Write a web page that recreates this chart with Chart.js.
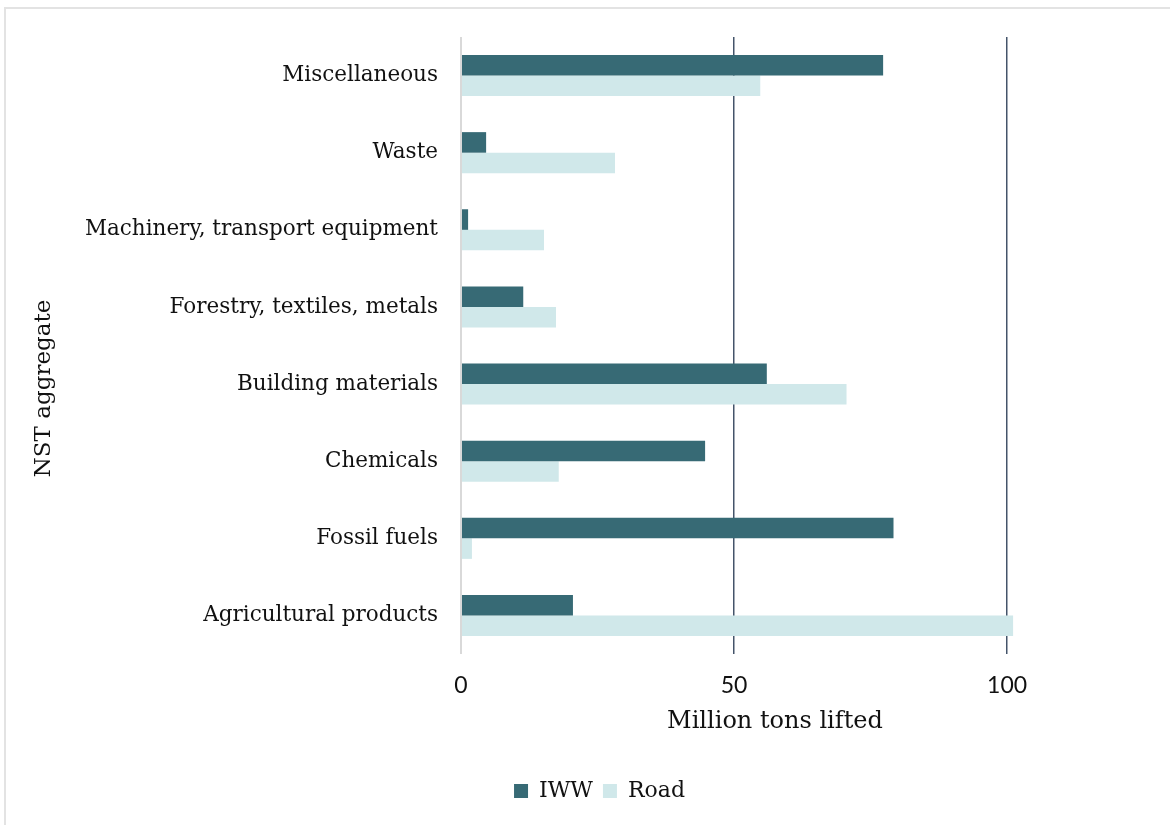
<!DOCTYPE html>
<html>
<head>
<meta charset="utf-8">
<script src="https://cdn.jsdelivr.net/npm/chart.js@4/dist/chart.umd.min.js"></script>
<style>
    html, body { margin: 0; padding: 0; background: #fff; }
    #wrap { position: relative; width: 1170px; height: 825px; }
    #frame { position: absolute; left: 4px; top: 7px; width: 1180px; height: 840px; border: 2px solid #e3e3e3; pointer-events: none; }
</style>
</head>
<body>
<div id="wrap">
    <canvas id="nstChart" width="1170" height="825"></canvas>
    <div id="frame"></div>
</div>
<script>
// Data (million tons lifted per NST aggregate)
const categories = [
    'Miscellaneous',
    'Waste',
    'Machinery, transport equipment',
    'Forestry, textiles, metals',
    'Building materials',
    'Chemicals',
    'Fossil fuels',
    'Agricultural products'
];
const iwwValues  = [77.3, 4.6, 1.3, 11.4, 56.0, 44.7, 79.2, 20.5];
const roadValues = [54.8, 28.2, 15.2, 17.4, 70.6, 17.9, 2.0, 101.1];
const xTicks = [0, 50, 100];

const SERIF = "'DejaVu Serif', serif";
const SANS = "Lato, sans-serif";

// move legend / y title to match reference centring
const legendShift = {
    id: 'legendShift',
    afterLayout(chart) {
        const lg = chart.legend;
        if (lg) { lg.left += 55; lg.right += 55; }
        const y = chart.scales.y;
        if (y && !y._shifted) {
            const orig = y.drawTitle.bind(y);
            y.drawTitle = function () {
                this.ctx.save();
                this.ctx.translate(0, 43);
                orig();
                this.ctx.restore();
            };
            y._shifted = true;
        }
    }
};

new Chart(document.getElementById('nstChart'), {
    type: 'bar',
    data: {
        labels: categories,
        datasets: [
            {
                label: 'IWW',
                data: iwwValues,
                backgroundColor: '#376a75',
                borderWidth: 0,
                barPercentage: 1,
                categoryPercentage: 0.533
            },
            {
                label: 'Road',
                data: roadValues,
                backgroundColor: '#d0e8ea',
                borderWidth: 0,
                barPercentage: 1,
                categoryPercentage: 0.533
            }
        ]
    },
    options: {
        indexAxis: 'y',
        responsive: false,
        animation: false,
        layout: {
            padding: { left: 0, right: 81, top: 37, bottom: 13 }
        },
        plugins: {
            legend: {
                position: 'bottom',
                labels: {
                    boxWidth: 14,
                    boxHeight: 14,
                    padding: 10,
                    color: '#111',
                    font: { family: SERIF, size: 22 }
                }
            },
            tooltip: { enabled: false }
        },
        scales: {
            x: {
                min: 0,
                max: 115,
                afterBuildTicks(scale) {
                    scale.ticks = xTicks.map(v => ({ value: v }));
                },
                afterFit(scale) { scale.height = 116; },
                border: { display: false },
                grid: {
                    drawTicks: false,
                    color: ctx => ctx.tick && ctx.tick.value === 0 ? '#d9d9d9' : '#44546a',
                    lineWidth: ctx => ctx.tick && ctx.tick.value === 0 ? 2 : 1.5
                },
                ticks: {
                    padding: 18,
                    color: '#111',
                    font: { family: SANS, size: 23 }
                },
                title: {
                    display: true,
                    text: 'Million tons lifted',
                    color: '#111',
                    font: { family: SERIF, size: 24 },
                    padding: { top: 0, bottom: 34 }
                }
            },
            y: {
                afterFit(scale) { scale.width = 461; },
                border: { display: false },
                grid: { display: false, drawTicks: false },
                ticks: {
                    padding: 23,
                    color: '#111',
                    font: { family: SERIF, size: 21.5 }
                },
                title: {
                    display: true,
                    text: 'NST aggregate',
                    color: '#111',
                    font: { family: SERIF, size: 23 },
                    padding: { top: 30, bottom: 0 }
                }
            }
        }
    },
    plugins: [legendShift]
});
</script>
</body>
</html>
